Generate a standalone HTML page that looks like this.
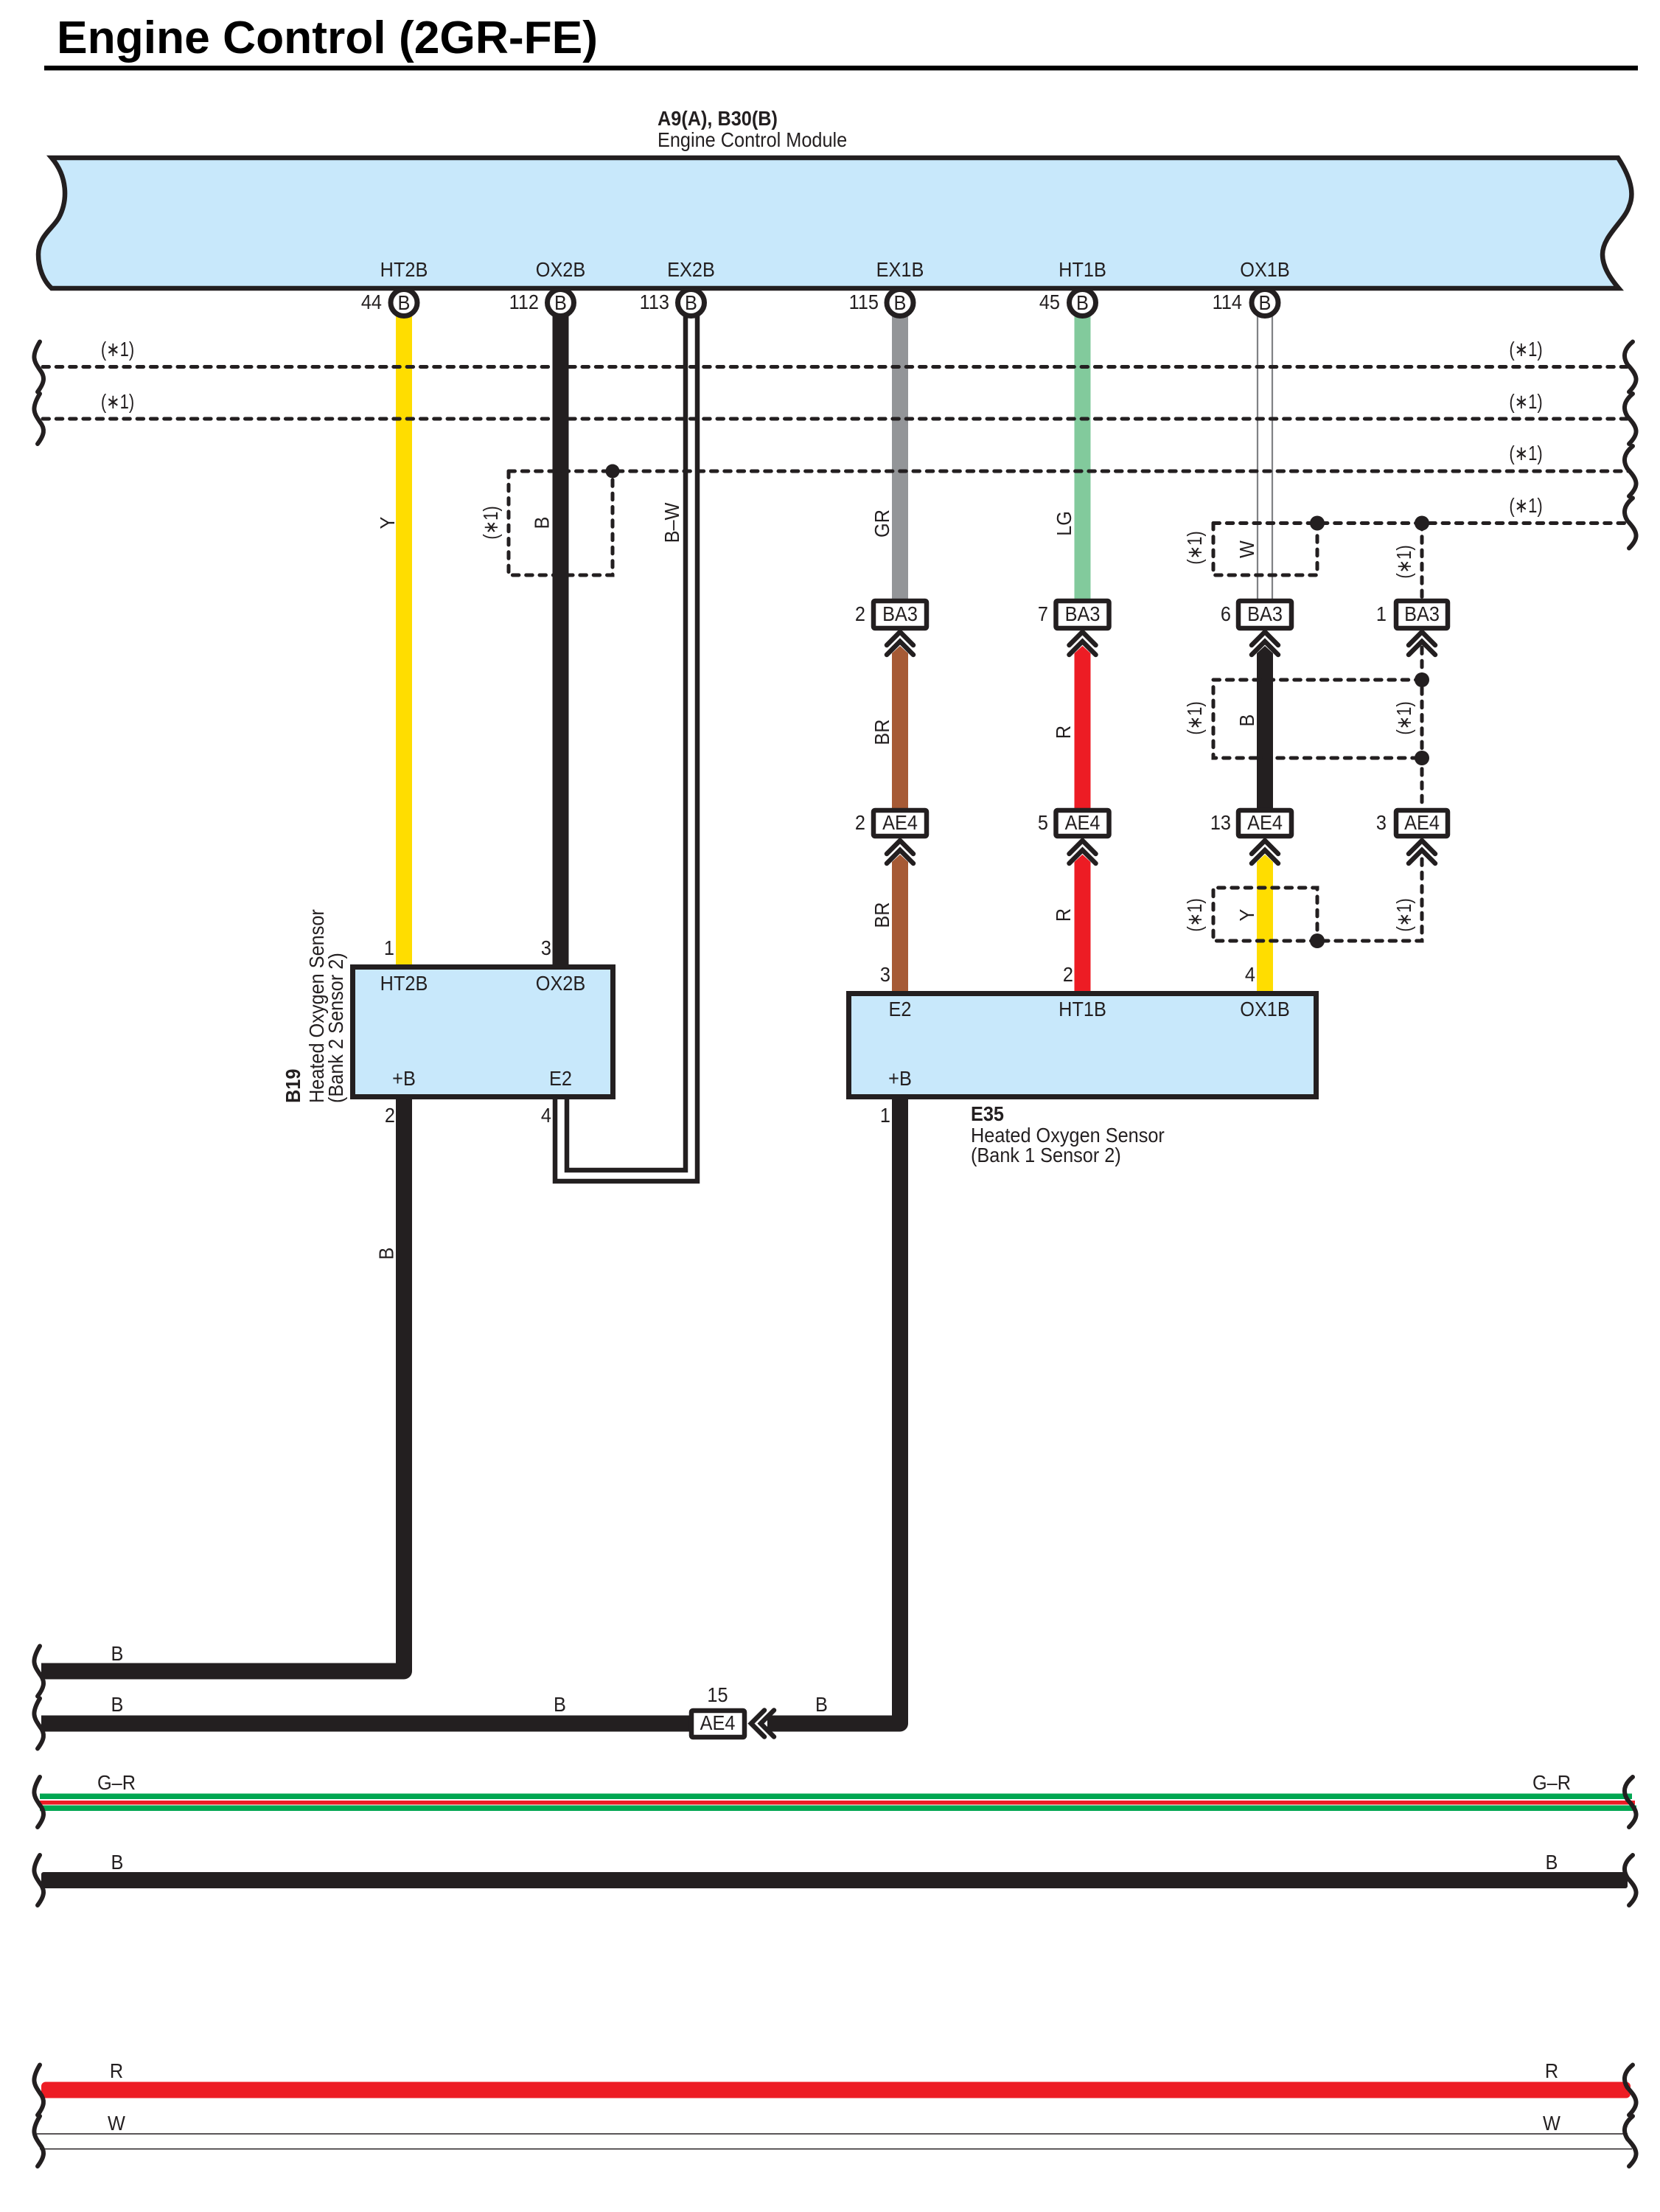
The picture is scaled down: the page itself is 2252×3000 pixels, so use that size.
<!DOCTYPE html>
<html>
<head>
<meta charset="utf-8">
<title>Engine Control (2GR-FE)</title>
<style>
html,body{margin:0;padding:0;background:#fff;width:2252px;height:3000px;overflow:hidden}
svg{display:block}
text{font-family:"Liberation Sans",sans-serif;font-size:27.5px;fill:#231f20}
.m{text-anchor:middle}
.e{text-anchor:end}
.b{font-weight:bold}
.d{fill:none;stroke:#231f20;stroke-width:5;stroke-dasharray:8.5 9.8;stroke-linecap:round}
.k{fill:none;stroke:#231f20;stroke-width:6;stroke-linecap:round}
.c{fill:none;stroke:#231f20;stroke-width:6.5;stroke-linecap:round;stroke-linejoin:miter}
.p{fill:#fff;stroke:#231f20;stroke-width:7}
.x{fill:#fff;stroke:#231f20;stroke-width:6.5;stroke-linejoin:round}
</style>
</head>
<body>
<svg xmlns="http://www.w3.org/2000/svg" width="2252" height="3000" viewBox="0 0 2252 3000">
<defs>
<g id="chev"><path class="c" d="M-18,18 L0,0 L18,18"/><path class="c" d="M-18,31 L0,13 L18,31"/></g>
<path id="bl" class="k" d="M54,-34 C42,-14 46,-8 54,4 C62,14 60,22 51,34"/>
<path id="br" class="k" d="M2215,-34 C2203,-24 2201,-14 2208,-3 C2222,12 2224,20 2210,34"/>
</defs>

<!-- Title -->
<text class="b" x="77" y="72" style="font-size:62px;fill:#000" textLength="734" lengthAdjust="spacingAndGlyphs">Engine Control (2GR-FE)</text>
<rect x="60" y="89" width="2162" height="6.5" fill="#000"/>

<text class="b" transform="translate(892 170) scale(.92 1)">A9(A), B30(B)</text>
<text transform="translate(892 199) scale(.92 1)">Engine Control Module</text>

<!-- ECM -->
<path d="M70,214 H2195 C2212,240 2218,262 2210,280 C2204,300 2174,320 2174,345 C2174,362 2185,378 2196,391 H70 C58,380 52,362 52,345 C52,320 72,310 80,295 C92,272 92,240 70,214 Z" fill="#c8e8fb" stroke="#231f20" stroke-width="6.5"/>

<!-- Colored wires top -->
<rect x="537" y="428" width="22" height="884" fill="#ffdd00"/>
<rect x="749.5" y="428" width="22" height="884" fill="#231f20"/>
<rect x="1210" y="428" width="22" height="386" fill="#939598"/>
<rect x="1457.5" y="428" width="22" height="386" fill="#82ca9c"/>
<path d="M1706,428 V814 M1726,428 V814" stroke="#808285" stroke-width="2.2" fill="none"/>
<path d="M930,428 V1587 H769 V1491 M946,428 V1602 H753 V1491" fill="none" stroke="#231f20" stroke-width="6.5"/>

<!-- Mid wires -->
<path d="M1210,886 L1221,876 L1232,886 V1098 H1210 Z" fill="#a65a35"/>
<path d="M1457.5,886 L1468.5,876 L1479.5,886 V1098 H1457.5 Z" fill="#ed1c24"/>
<path d="M1705,886 L1716,876 L1727,886 V1098 H1705 Z" fill="#231f20"/>
<path d="M1210,1169 L1221,1159 L1232,1169 V1346 H1210 Z" fill="#a65a35"/>
<path d="M1457.5,1169 L1468.5,1159 L1479.5,1169 V1346 H1457.5 Z" fill="#ed1c24"/>
<path d="M1705,1169 L1716,1159 L1727,1169 V1346 H1705 Z" fill="#ffdd00"/>

<!-- Bottom wires -->
<path d="M56,2266.5 H548 V1490" fill="none" stroke="#231f20" stroke-width="22" stroke-linejoin="round"/>
<path d="M56,2337.5 H940" fill="none" stroke="#231f20" stroke-width="22"/>
<path d="M1221,1490 V2337.5 H1052 L1041,2337.5" fill="none" stroke="#231f20" stroke-width="22" stroke-linejoin="round"/>
<path d="M1052,2326.5 L1041,2337.5 L1052,2348.5 Z" fill="#231f20"/>
<rect x="54" y="2432.5" width="2160" height="7.5" fill="#00a651"/>
<rect x="54" y="2442" width="2164" height="5.5" fill="#ed1c24"/>
<rect x="54" y="2448.5" width="2166" height="7.5" fill="#00a651"/>
<rect x="56" y="2539" width="2152" height="22" rx="3" fill="#231f20"/>
<rect x="56" y="2823.5" width="2156" height="22" rx="6" fill="#ed1c24"/>
<path d="M50,2894 H2208 M54,2914.5 H2214" stroke="#231f20" stroke-width="1.6" fill="none"/>

<!-- Dashed -->
<path class="d" d="M58,497.5 H2210"/>
<path class="d" d="M58,568 H2210"/>
<path class="d" d="M690,639 H2210"/>
<path class="d" d="M690,639 V780 H831 V639"/>
<path class="d" d="M1646,709.5 H2210"/>
<path class="d" d="M1646,709.5 V780 H1787 V709.5"/>
<path class="d" d="M1929,709.5 V812"/>
<path class="d" d="M1929,878 V1096"/>
<path class="d" d="M1929,922 H1646 V1028 H1929"/>
<path class="d" d="M1929,1165 V1276 H1787"/>
<path class="d" d="M1787,1276 H1646 V1204 H1787 V1276"/>
<circle cx="831" cy="639" r="9.5" fill="#231f20"/>
<circle cx="1787" cy="709.5" r="10" fill="#231f20"/>
<circle cx="1929" cy="709.5" r="10" fill="#231f20"/>
<circle cx="1929" cy="922" r="10" fill="#231f20"/>
<circle cx="1929" cy="1028" r="10" fill="#231f20"/>
<circle cx="1787" cy="1276" r="10" fill="#231f20"/>

<!-- Break marks left -->
<use href="#bl" transform="translate(0 497.5)"/>
<use href="#bl" transform="translate(0 568)"/>
<use href="#bl" transform="translate(0 2266.5)"/>
<use href="#bl" transform="translate(0 2337.5)"/>
<use href="#bl" transform="translate(0 2444)"/>
<use href="#bl" transform="translate(0 2550)"/>
<use href="#bl" transform="translate(0 2834.5)"/>
<use href="#bl" transform="translate(0 2904)"/>
<!-- Break marks right -->
<use href="#br" transform="translate(0 497.5)"/>
<use href="#br" transform="translate(0 568)"/>
<use href="#br" transform="translate(0 639)"/>
<use href="#br" transform="translate(0 709.5)"/>
<use href="#br" transform="translate(0 2444)"/>
<use href="#br" transform="translate(0 2550)"/>
<use href="#br" transform="translate(0 2834.5)"/>
<use href="#br" transform="translate(0 2904)"/>

<!-- Sensor boxes -->
<rect x="478.5" y="1311.5" width="353" height="176" fill="#c8e8fb" stroke="#231f20" stroke-width="7"/>
<rect x="1151.5" y="1347.5" width="634" height="140" fill="#c8e8fb" stroke="#231f20" stroke-width="7"/>

<!-- Pin circles -->
<circle class="p" cx="548" cy="410.5" r="18"/>
<circle class="p" cx="760.5" cy="410.5" r="18"/>
<circle class="p" cx="937.5" cy="410.5" r="18"/>
<circle class="p" cx="1221" cy="410.5" r="18"/>
<circle class="p" cx="1468.5" cy="410.5" r="18"/>
<circle class="p" cx="1716" cy="410.5" r="18"/>

<!-- Connector boxes -->
<rect class="x" x="1185" y="815" width="72" height="37" rx="2"/>
<rect class="x" x="1432.5" y="815" width="72" height="37" rx="2"/>
<rect class="x" x="1680" y="815" width="72" height="37" rx="2"/>
<rect class="x" x="1894" y="815" width="70" height="37" rx="2"/>
<rect class="x" x="1185" y="1099" width="72" height="35" rx="2"/>
<rect class="x" x="1432.5" y="1099" width="72" height="35" rx="2"/>
<rect class="x" x="1680" y="1099" width="72" height="35" rx="2"/>
<rect class="x" x="1894" y="1099" width="70" height="35" rx="2"/>
<rect class="x" x="938" y="2320" width="72" height="36" rx="2"/>

<!-- Chevrons -->
<use href="#chev" transform="translate(1221 857)"/>
<use href="#chev" transform="translate(1468.5 857)"/>
<use href="#chev" transform="translate(1716 857)"/>
<use href="#chev" transform="translate(1929 857)"/>
<use href="#chev" transform="translate(1221 1140)"/>
<use href="#chev" transform="translate(1468.5 1140)"/>
<use href="#chev" transform="translate(1716 1140)"/>
<use href="#chev" transform="translate(1929 1140)"/>
<use href="#chev" transform="translate(1019 2337.5) rotate(-90)"/>

<!-- ECM pin labels -->
<text class="m" transform="translate(548 375) scale(.92 1)">HT2B</text>
<text class="m" transform="translate(760.5 375) scale(.92 1)">OX2B</text>
<text class="m" transform="translate(937.5 375) scale(.92 1)">EX2B</text>
<text class="m" transform="translate(1221 375) scale(.92 1)">EX1B</text>
<text class="m" transform="translate(1468.5 375) scale(.92 1)">HT1B</text>
<text class="m" transform="translate(1716 375) scale(.92 1)">OX1B</text>
<text class="m" transform="translate(548 420) scale(.92 1)">B</text>
<text class="m" transform="translate(760.5 420) scale(.92 1)">B</text>
<text class="m" transform="translate(937.5 420) scale(.92 1)">B</text>
<text class="m" transform="translate(1221 420) scale(.92 1)">B</text>
<text class="m" transform="translate(1468.5 420) scale(.92 1)">B</text>
<text class="m" transform="translate(1716 420) scale(.92 1)">B</text>
<text class="e" transform="translate(518 419) scale(.92 1)">44</text>
<text class="e" transform="translate(731 419) scale(.92 1)">112</text>
<text class="e" transform="translate(908 419) scale(.92 1)">113</text>
<text class="e" transform="translate(1192 419) scale(.92 1)">115</text>
<text class="e" transform="translate(1438 419) scale(.92 1)">45</text>
<text class="e" transform="translate(1685 419) scale(.92 1)">114</text>

<!-- (*1) horizontal -->
<text class="m" transform="translate(159.5 483) scale(.8 1)">(∗1)</text>
<text class="m" transform="translate(159.5 554) scale(.8 1)">(∗1)</text>
<text class="m" transform="translate(2070 483) scale(.8 1)">(∗1)</text>
<text class="m" transform="translate(2070 554) scale(.8 1)">(∗1)</text>
<text class="m" transform="translate(2070 624) scale(.8 1)">(∗1)</text>
<text class="m" transform="translate(2070 695) scale(.8 1)">(∗1)</text>

<!-- Rotated wire labels -->
<text class="m" transform="translate(535 709) rotate(-90) scale(.92 1)">Y</text>
<text class="m" transform="translate(744.5 709) rotate(-90) scale(.92 1)">B</text>
<text class="m" transform="translate(675 709) rotate(-90) scale(.8 1)">(∗1)</text>
<text class="m" transform="translate(921 709) rotate(-90) scale(.92 1)">B–W</text>
<text class="m" transform="translate(1206 710) rotate(-90) scale(.92 1)">GR</text>
<text class="m" transform="translate(1453 710) rotate(-90) scale(.92 1)">LG</text>
<text class="m" transform="translate(1206 993) rotate(-90) scale(.92 1)">BR</text>
<text class="m" transform="translate(1452 993) rotate(-90) scale(.92 1)">R</text>
<text class="m" transform="translate(1206 1241) rotate(-90) scale(.92 1)">BR</text>
<text class="m" transform="translate(1452 1241) rotate(-90) scale(.92 1)">R</text>
<text class="m" transform="translate(1630 743) rotate(-90) scale(.8 1)">(∗1)</text>
<text class="m" transform="translate(1701 745) rotate(-90) scale(.92 1)">W</text>
<text class="m" transform="translate(1914 762) rotate(-90) scale(.8 1)">(∗1)</text>
<text class="m" transform="translate(1630 974) rotate(-90) scale(.8 1)">(∗1)</text>
<text class="m" transform="translate(1701 977) rotate(-90) scale(.92 1)">B</text>
<text class="m" transform="translate(1914 974) rotate(-90) scale(.8 1)">(∗1)</text>
<text class="m" transform="translate(1630 1241) rotate(-90) scale(.8 1)">(∗1)</text>
<text class="m" transform="translate(1701 1241) rotate(-90) scale(.92 1)">Y</text>
<text class="m" transform="translate(1914 1241) rotate(-90) scale(.8 1)">(∗1)</text>
<text class="m" transform="translate(533.5 1700) rotate(-90) scale(.92 1)">B</text>

<!-- Connector labels -->
<text class="m" transform="translate(1221 842) scale(.92 1)">BA3</text>
<text class="m" transform="translate(1468.5 842) scale(.92 1)">BA3</text>
<text class="m" transform="translate(1716 842) scale(.92 1)">BA3</text>
<text class="m" transform="translate(1929 842) scale(.92 1)">BA3</text>
<text class="m" transform="translate(1221 1125) scale(.92 1)">AE4</text>
<text class="m" transform="translate(1468.5 1125) scale(.92 1)">AE4</text>
<text class="m" transform="translate(1716 1125) scale(.92 1)">AE4</text>
<text class="m" transform="translate(1929 1125) scale(.92 1)">AE4</text>
<text class="e" transform="translate(1174 842) scale(.92 1)">2</text>
<text class="e" transform="translate(1422 842) scale(.92 1)">7</text>
<text class="e" transform="translate(1670 842) scale(.92 1)">6</text>
<text class="e" transform="translate(1881 842) scale(.92 1)">1</text>
<text class="e" transform="translate(1174 1125) scale(.92 1)">2</text>
<text class="e" transform="translate(1422 1125) scale(.92 1)">5</text>
<text class="e" transform="translate(1670 1125) scale(.92 1)">13</text>
<text class="e" transform="translate(1881 1125) scale(.92 1)">3</text>
<text class="m" transform="translate(973.5 2346) scale(.92 1)">AE4</text>
<text class="m" transform="translate(973.5 2308) scale(.92 1)">15</text>

<!-- Box labels -->
<text class="m" transform="translate(548 1343) scale(.92 1)">HT2B</text>
<text class="m" transform="translate(760.5 1343) scale(.92 1)">OX2B</text>
<text class="m" transform="translate(548 1472) scale(.92 1)">+B</text>
<text class="m" transform="translate(760.5 1472) scale(.92 1)">E2</text>
<text class="m" transform="translate(1221 1378) scale(.92 1)">E2</text>
<text class="m" transform="translate(1468.5 1378) scale(.92 1)">HT1B</text>
<text class="m" transform="translate(1716 1378) scale(.92 1)">OX1B</text>
<text class="m" transform="translate(1221 1472) scale(.92 1)">+B</text>
<text class="e" transform="translate(535 1295) scale(.92 1)">1</text>
<text class="e" transform="translate(748 1295) scale(.92 1)">3</text>
<text class="e" transform="translate(536 1522) scale(.92 1)">2</text>
<text class="e" transform="translate(748 1522) scale(.92 1)">4</text>
<text class="e" transform="translate(1208 1331) scale(.92 1)">3</text>
<text class="e" transform="translate(1456 1331) scale(.92 1)">2</text>
<text class="e" transform="translate(1703 1331) scale(.92 1)">4</text>
<text class="e" transform="translate(1208 1522) scale(.92 1)">1</text>

<!-- Component names -->
<text class="b" transform="translate(407 1496) rotate(-90) scale(.92 1)">B19</text>
<text transform="translate(439 1496) rotate(-90) scale(.92 1)">Heated Oxygen Sensor</text>
<text transform="translate(465 1496) rotate(-90) scale(.92 1)">(Bank 2 Sensor 2)</text>
<text class="b" transform="translate(1317 1520) scale(.92 1)">E35</text>
<text transform="translate(1317 1549) scale(.92 1)">Heated Oxygen Sensor</text>
<text transform="translate(1317 1576) scale(.92 1)">(Bank 1 Sensor 2)</text>

<!-- Bottom labels -->
<text class="m" transform="translate(159 2252) scale(.92 1)">B</text>
<text class="m" transform="translate(159 2321) scale(.92 1)">B</text>
<text class="m" transform="translate(759.5 2321) scale(.92 1)">B</text>
<text class="m" transform="translate(1114.5 2321) scale(.92 1)">B</text>
<text class="m" transform="translate(158 2427) scale(.92 1)">G–R</text>
<text class="m" transform="translate(2105 2427) scale(.92 1)">G–R</text>
<text class="m" transform="translate(159 2535) scale(.92 1)">B</text>
<text class="m" transform="translate(2105 2535) scale(.92 1)">B</text>
<text class="m" transform="translate(158 2818) scale(.92 1)">R</text>
<text class="m" transform="translate(2105 2818) scale(.92 1)">R</text>
<text class="m" transform="translate(158 2889) scale(.92 1)">W</text>
<text class="m" transform="translate(2105 2889) scale(.92 1)">W</text>
</svg>
</body>
</html>
